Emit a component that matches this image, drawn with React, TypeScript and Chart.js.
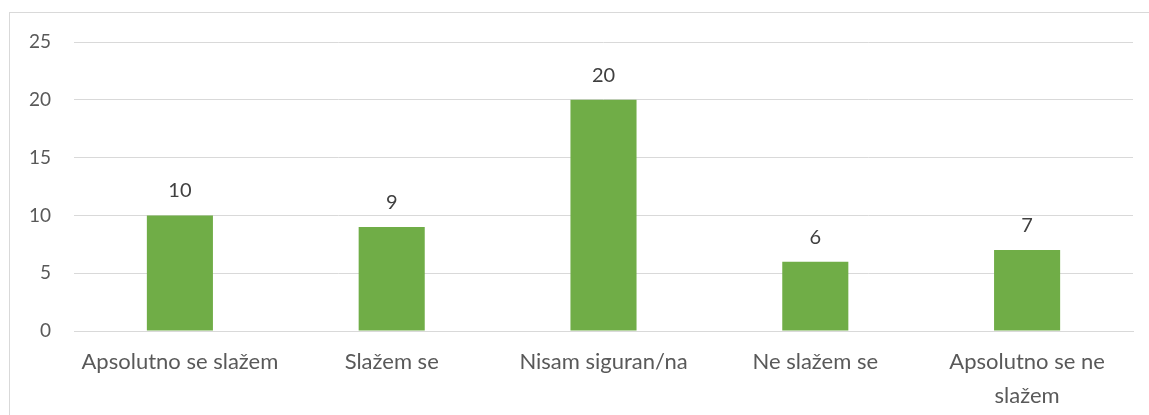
import React, { useEffect, useRef } from "react";
import { Chart, registerables } from "chart.js";

Chart.register(...registerables);

const categories = [
  "Apsolutno se slažem",
  "Slažem se",
  "Nisam siguran/na",
  "Ne slažem se",
  ["Apsolutno se ne", "slažem"],
];
const values = [10, 9, 20, 6, 7];
const yTicks = [0, 5, 10, 15, 20, 25];

const FONT = "Lato, 'Open Sans', sans-serif";

const valueLabels = {
  id: "valueLabels",
  afterDatasetsDraw(chart: any) {
    const ctx = chart.ctx;
    const meta = chart.getDatasetMeta(0);
    ctx.save();
    ctx.fillStyle = "#404040";
    ctx.font = `20px ${FONT}`;
    ctx.textAlign = "center";
    ctx.textBaseline = "alphabetic";
    meta.data.forEach((bar: any, i: number) => {
      ctx.fillText(String(values[i]), bar.x, bar.y - 18);
    });
    ctx.restore();
  },
};

export default function App() {
  const ref = useRef<HTMLCanvasElement | null>(null);
  useEffect(() => {
    if (!ref.current) return;
    const chart = new Chart(ref.current, {
      type: "bar",
      data: {
        labels: categories as any,
        datasets: [
          {
            data: values,
            backgroundColor: "#70AD47",
            barPercentage: 0.312,
            categoryPercentage: 1,
          },
        ],
      },
      options: {
        animation: false,
        responsive: false,
        maintainAspectRatio: false,
        layout: { padding: { top: 29, right: 16, left: 0, bottom: 0 } },
        plugins: { legend: { display: false }, tooltip: { enabled: false } },
        scales: {
          x: {
            grid: { display: false },
            border: { color: "#d9d9d9" },
            ticks: {
              color: "#595959",
              font: { family: FONT, size: 22, lineHeight: 1.55 },
              padding: 6,
              maxRotation: 0,
              autoSkip: false,
            },
            afterFit(scale: any) {
              scale.height = 84;
            },
          },
          y: {
            min: 0,
            max: 25,
            afterBuildTicks(scale: any) {
              scale.ticks = yTicks.map((v) => ({ value: v }));
            },
            grid: { color: "#d9d9d9", drawTicks: false },
            border: { display: false },
            ticks: {
              color: "#595959",
              font: { family: FONT, size: 19, lineHeight: 0.5 },
              padding: 23,
            },
            afterFit(scale: any) {
              scale.width = 64;
            },
          },
        },
      },
      plugins: [valueLabels],
    });
    return () => chart.destroy();
  }, []);
  return (
    <div
      style={{
        position: "absolute",
        left: 9,
        top: 12,
        width: 1140,
        height: 403,
        borderLeft: "1px solid #d9d9d9",
        borderTop: "1px solid #d9d9d9",
        background: "#fff",
      }}
    >
      <canvas ref={ref} width={1139} height={402} style={{ display: "block" }} />
    </div>
  );
}
